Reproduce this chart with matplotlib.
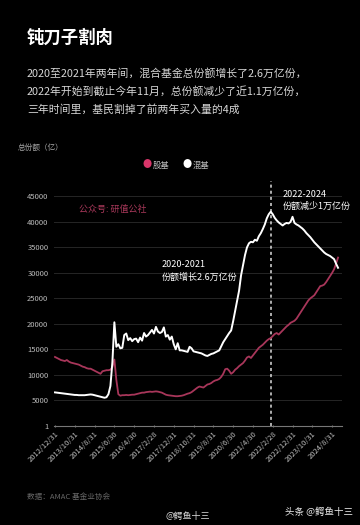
import matplotlib
matplotlib.use("Agg")
import matplotlib.pyplot as plt
import pandas as pd

plt.rcParams['font.family'] = ['Noto Sans CJK SC', 'DejaVu Sans']

# monthly month-end dates, 2012/12 .. 2024/11
dates = pd.date_range('2012-12-31', periods=144, freq='ME')

# 混基 total shares (亿份)
mixed = [
    6550,
    6500, 6450, 6400, 6350, 6300, 6250, 6200, 6150, 6100, 6050, 6050, 6000,
    6000, 5980, 6000, 6050, 6100, 6150, 6100, 6000, 5900, 5800, 5700, 5600,
    5500, 5600, 6200, 7800, 12500, 20300, 15500, 16000, 15200, 15300, 17800, 18100,
    16800, 17200, 16600, 17000, 17100, 16400, 17300, 16700, 18200, 17500, 17800, 18300,
    18800, 18100, 19400, 18500, 18200, 18400, 19300, 17500, 17800, 16900, 17500, 16000,
    15000, 16200, 14800, 14800, 14700, 14600, 14500, 15500, 15200, 14600, 14500, 14400,
    14300, 14200, 14000, 13800, 13700, 13900, 14100, 14200, 14400, 14600, 14800, 15600,
    16400, 17000, 17600, 18200, 18700, 20500, 22500, 24500, 26500, 29500, 31500, 33500,
    35000, 35800, 36100, 36000, 36500, 36300, 37200, 37800, 38600, 39500, 40700, 41500,
    42000, 41500, 40800, 40300, 39900, 39600, 39300, 39600, 39800, 39700, 40000, 41000,
    39800, 39500, 39300, 39000, 38700, 38300, 37800, 37400, 37000, 36500, 36000, 35600,
    35200, 34800, 34400, 34000, 33700, 33500, 33300, 33000, 32700, 31800, 31000,
]

# 股基 total shares (亿份)
stock = [
    13500,
    13300, 13100, 12900, 12800, 12700, 12900, 12600, 12400, 12300, 12200, 12100, 12000,
    11800, 11600, 11500, 11300, 11200, 11200, 11000, 10800, 10600, 10400, 10200, 10700,
    10800, 10900, 10900, 11000, 11500, 13000, 9000, 6200, 5900, 6000, 6000, 6050,
    6000, 6050, 6100, 6100, 6200, 6300, 6400, 6500, 6500, 6600, 6650, 6700,
    6650, 6700, 6750, 6700, 6600, 6500, 6300, 6100, 6000, 5950, 5900, 5850,
    5800, 5800, 5850, 5900, 6000, 6150, 6300, 6400, 6600, 6900, 7200, 7500,
    7700, 7600, 7500, 7800, 8100, 8200, 8400, 8700, 8900, 9000, 9200, 9600,
    10200, 11100, 11200, 10800, 10200, 10500, 11000, 11300, 11700, 12000, 12300, 12800,
    13400, 13600, 13300, 13800, 14300, 14800, 15300, 15600, 15900, 16300, 16700, 17000,
    17200, 17600, 18000, 18200, 17900, 18300, 18700, 19100, 19500, 19800, 20200, 20400,
    20600, 21000, 21600, 22200, 22800, 23400, 24000, 24600, 25000, 25300, 25600, 26200,
    26800, 27400, 27500, 27700, 28200, 28800, 29400, 30000, 30700, 31800, 33000,
]

y_ticks = [1, 5000, 10000, 15000, 20000, 25000, 30000, 35000, 40000, 45000]
peak_idx = 109  # 2021/12/31

bg = '#000000'
red = '#a8365a'

fig = plt.figure(figsize=(3.6, 5.25), dpi=100, facecolor=bg)
ax = fig.add_axes([0.15, 0.189, 0.80, 0.466], facecolor=bg)

x = list(range(len(dates)))
ax.plot(x, stock, color=red, lw=1.3, zorder=3)
ax.plot(x, mixed, color='white', lw=1.4, zorder=4)
ax.axvline(peak_idx, color='#dddddd', lw=1.1, ls=(0, (2, 2)), zorder=2)

ax.set_xlim(-0.5, 145)
ax.set_ylim(0, 48000)
ax.set_yticks(y_ticks)
ax.set_yticklabels([str(v) for v in y_ticks], color='#bbbbbb', fontsize=5.5)
for v in y_ticks[1:]:
    ax.axhline(v, color='#262626', lw=0.7, zorder=1)

tick_pos = list(range(0, 144, 10))
ax.set_xticks(tick_pos)
ax.set_xticklabels([f"{dates[i].year}/{dates[i].month}/{dates[i].day}" for i in tick_pos],
                   rotation=45, ha='right', rotation_mode='anchor',
                   color='#bbbbbb', fontsize=5.5)
ax.tick_params(axis='y', length=0, pad=4)
ax.tick_params(axis='x', length=2, color='#777777', pad=2, direction='inout')
for s in ['top', 'right', 'left']:
    ax.spines[s].set_visible(False)
ax.spines['bottom'].set_color('#777777')
ax.spines['bottom'].set_linewidth(0.8)

ax.text(12, 42400, '公众号: 研值公社', color='#a8385a', fontsize=6.5, va='center')
ax.text(54, 30300, '2020-2021\n份额增长2.6万亿份', color='white', fontsize=6.5,
        va='center', linespacing=1.5)
ax.text(115, 44200, '2022-2024\n份额减少1万亿份', color='white', fontsize=6.5,
        va='center', linespacing=1.5)

# header texts
fig.text(27/360, 1 - 38/525, '钝刀子割肉', color='white', fontsize=12.5,
         fontweight='bold', va='center')
para = ['2020至2021年两年间，混合基金总份额增长了2.6万亿份，',
        '2022年开始到截止今年11月，总份额减少了近1.1万亿份，',
        '三年时间里，基民割掉了前两年买入量的4成']
for i, line in enumerate(para):
    fig.text(27/360, 1 - (73 + i * 18)/525, line, color='#d6d6d6', fontsize=7.8, va='center')

fig.text(18/360, 1 - 148/525, '总份额（亿）', color='#aaaaaa', fontsize=5.5, va='center')

# legend
fig.text(147/360, 1 - 165/525, '●', color='#d9366a', fontsize=6.5, va='center', ha='center')
fig.text(153/360, 1 - 165/525, '股基', color='#bbbbbb', fontsize=6, va='center')
fig.text(187/360, 1 - 165/525, '●', color='white', fontsize=6.5, va='center', ha='center')
fig.text(193/360, 1 - 165/525, '混基', color='#bbbbbb', fontsize=6, va='center')

fig.text(27/360, 1 - 497/525, '数据：AMAC 基金业协会', color='#666666', fontsize=5.5, va='center')
fig.text(165/360, 1 - 517/525, '@鳄鱼十三', color='#dddddd', fontsize=6.5, va='center')
fig.text(285/360, 1 - 512/525, '头条 @鳄鱼十三', color='#eeeeee', fontsize=6.8, va='center')

fig.savefig('out.png', dpi=100, facecolor=bg)
